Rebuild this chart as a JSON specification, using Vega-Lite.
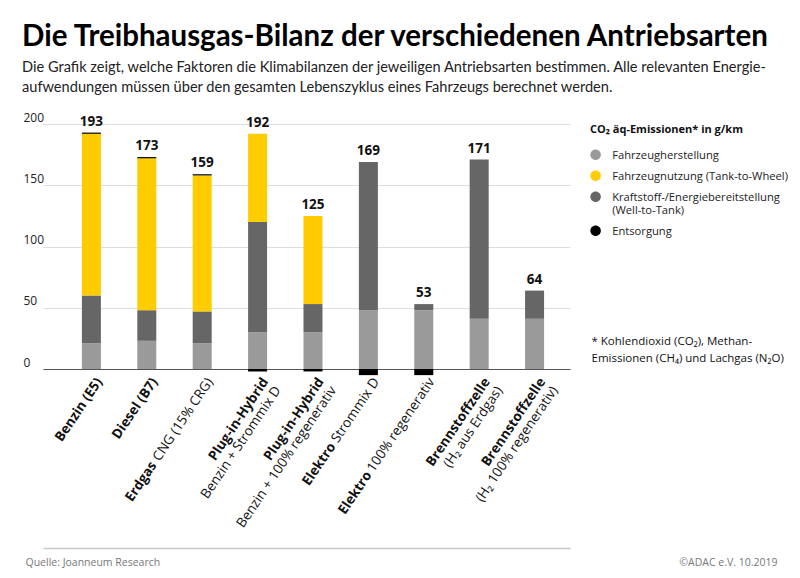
{
  "$schema": "https://vega.github.io/schema/vega-lite/v6.json",
  "autosize": {"type": "none"},
  "padding": {"left": 43, "top": 124, "right": 230, "bottom": 209},
  "width": 527,
  "height": 245,
  "background": "white",
  "config": {"view": {"stroke": null}, "font": "Open Sans"},
  "title": {
    "text": "Die Treibhausgas-Bilanz der verschiedenen Antriebsarten",
    "subtitle": ["Die Grafik zeigt, welche Faktoren die Klimabilanzen der jeweiligen Antriebsarten bestimmen. Alle relevanten Energie-", "aufwendungen müssen über den gesamten Lebenszyklus eines Fahrzeugs berechnet werden."],
    "anchor": "start",
    "frame": "group",
    "dx": -21,
    "offset": 15,
    "font": "Lato",
    "fontSize": 29.5,
    "fontWeight": "bold",
    "color": "#000000",
    "subtitleFont": "Lato",
    "subtitleFontSize": 14.6,
    "subtitleColor": "#222222",
    "subtitlePadding": 8,
    "subtitleLineHeight": 20
  },
  "datasets": {
    "parts": [
      {"k": "E5", "comp": "Fahrzeugherstellung", "o": 1, "v": 21},
      {"k": "E5", "comp": "Kraftstoff-/Energiebereitstellung (Well-to-Tank)", "o": 2, "v": 39},
      {"k": "E5", "comp": "Fahrzeugnutzung (Tank-to-Wheel)", "o": 3, "v": 132},
      {"k": "E5", "comp": "Entsorgung", "o": 4, "v": 1},
      {"k": "B7", "comp": "Fahrzeugherstellung", "o": 1, "v": 23},
      {"k": "B7", "comp": "Kraftstoff-/Energiebereitstellung (Well-to-Tank)", "o": 2, "v": 25},
      {"k": "B7", "comp": "Fahrzeugnutzung (Tank-to-Wheel)", "o": 3, "v": 124},
      {"k": "B7", "comp": "Entsorgung", "o": 4, "v": 1},
      {"k": "CNG", "comp": "Fahrzeugherstellung", "o": 1, "v": 21},
      {"k": "CNG", "comp": "Kraftstoff-/Energiebereitstellung (Well-to-Tank)", "o": 2, "v": 26},
      {"k": "CNG", "comp": "Fahrzeugnutzung (Tank-to-Wheel)", "o": 3, "v": 111},
      {"k": "CNG", "comp": "Entsorgung", "o": 4, "v": 1},
      {"k": "PHEV_D", "comp": "Fahrzeugherstellung", "o": 1, "v": 30},
      {"k": "PHEV_D", "comp": "Kraftstoff-/Energiebereitstellung (Well-to-Tank)", "o": 2, "v": 90},
      {"k": "PHEV_D", "comp": "Fahrzeugnutzung (Tank-to-Wheel)", "o": 3, "v": 72},
      {"k": "PHEV_D", "comp": "Entsorgung", "o": 4, "v": -2},
      {"k": "PHEV_R", "comp": "Fahrzeugherstellung", "o": 1, "v": 30},
      {"k": "PHEV_R", "comp": "Kraftstoff-/Energiebereitstellung (Well-to-Tank)", "o": 2, "v": 23},
      {"k": "PHEV_R", "comp": "Fahrzeugnutzung (Tank-to-Wheel)", "o": 3, "v": 72},
      {"k": "PHEV_R", "comp": "Entsorgung", "o": 4, "v": -2},
      {"k": "BEV_D", "comp": "Fahrzeugherstellung", "o": 1, "v": 48},
      {"k": "BEV_D", "comp": "Kraftstoff-/Energiebereitstellung (Well-to-Tank)", "o": 2, "v": 121},
      {"k": "BEV_D", "comp": "Entsorgung", "o": 4, "v": -5},
      {"k": "BEV_R", "comp": "Fahrzeugherstellung", "o": 1, "v": 48},
      {"k": "BEV_R", "comp": "Kraftstoff-/Energiebereitstellung (Well-to-Tank)", "o": 2, "v": 5},
      {"k": "BEV_R", "comp": "Entsorgung", "o": 4, "v": -5},
      {"k": "FCEV_E", "comp": "Fahrzeugherstellung", "o": 1, "v": 41},
      {"k": "FCEV_E", "comp": "Kraftstoff-/Energiebereitstellung (Well-to-Tank)", "o": 2, "v": 130},
      {"k": "FCEV_R", "comp": "Fahrzeugherstellung", "o": 1, "v": 41},
      {"k": "FCEV_R", "comp": "Kraftstoff-/Energiebereitstellung (Well-to-Tank)", "o": 2, "v": 23}
    ],
    "totals": [
      {"k": "E5", "t": 193},
      {"k": "B7", "t": 173},
      {"k": "CNG", "t": 159},
      {"k": "PHEV_D", "t": 192},
      {"k": "PHEV_R", "t": 125},
      {"k": "BEV_D", "t": 169},
      {"k": "BEV_R", "t": 53},
      {"k": "FCEV_E", "t": 171},
      {"k": "FCEV_R", "t": 64}
    ]
  },
  "layer": [
    {
      "data": {"name": "parts"},
      "mark": {"type": "bar"},
      "encoding": {
        "x": {
          "field": "k", "type": "nominal", "sort": null,
          "scale": {"domain": ["E5", "B7", "CNG", "PHEV_D", "PHEV_R", "BEV_D", "BEV_R", "FCEV_E", "FCEV_R"], "paddingInner": 0.657, "paddingOuter": 0.585, "align": 0.6},
          "axis": {
            "orient": "bottom",
            "title": ["* Kohlendioxid (CO₂), Methan-", "Emissionen (CH₄) und Lachgas (N₂O)"],
            "titleX": 548, "titleY": -25, "titleAlign": "left", "titleAnchor": "start", "titleBaseline": "alphabetic", "titleAngle": 0,
            "titleFont": "Open Sans", "titleFontWeight": "normal", "titleFontSize": 11.5, "titleColor": "#111111", "titleLineHeight": 17.5,
            "labelAngle": -56, "labelAlign": "right", "labelBaseline": "middle",
            "labelFont": "Open Sans", "labelFontWeight": "bold", "labelFontSize": 13.5, "labelColor": "#111111",
            "labelPadding": {"condition": [{"test": "datum.value=='CNG'", "value": 93.7}, {"test": "datum.value=='BEV_D'", "value": 74.7}, {"test": "datum.value=='BEV_R'", "value": 103.4}], "value": 10},
            "labelOffset": {"condition": [{"test": "datum.value=='CNG'", "value": -48.5}, {"test": "datum.value=='BEV_D'", "value": -35.6}, {"test": "datum.value=='BEV_R'", "value": -55}], "value": 8},
            "labelLimit": 1000, "labelOverlap": false, "labelBound": false, "labelLineHeight": 15,
            "ticks": false, "tickSize": 0, "domainColor": "#555555", "domainWidth": 1.2, "grid": false,
            "labelExpr": "datum.value=='E5' ? 'Benzin (E5)' : datum.value=='B7' ? 'Diesel (B7)' : datum.value=='CNG' ? 'Erdgas' : (datum.value=='PHEV_D' || datum.value=='PHEV_R') ? ['Plug-in-Hybrid', '\u00a0'] : (datum.value=='BEV_D' || datum.value=='BEV_R') ? 'Elektro' : ['Brennstoffzelle', '\u00a0']"
          }
        },
        "y": {
          "field": "v", "type": "quantitative", "stack": "zero",
          "scale": {"domain": [0, 200], "nice": false},
          "axis": {
            "orient": "left", "title": null, "values": [0, 50, 100, 150, 200],
            "domain": false, "ticks": false, "tickSize": 0,
            "labelAlign": "left", "labelPadding": 20, "labelBaseline": "alphabetic", "labelOffset": -3,
            "labelFont": "Open Sans", "labelFontSize": 12, "labelColor": "#222222",
            "grid": true, "gridColor": "#dddddd", "gridWidth": 1
          }
        },
        "color": {
          "field": "comp", "type": "nominal",
          "scale": {"domain": ["Fahrzeugherstellung", "Fahrzeugnutzung (Tank-to-Wheel)", "Kraftstoff-/Energiebereitstellung (Well-to-Tank)", "Entsorgung"], "range": ["#9a9a9a", "#ffcc00", "#666666", "#000000"]},
          "legend": {
            "orient": "none", "legendX": 547, "legendY": 0,
            "title": "CO₂ äq-Emissionen* in g/km",
            "titleFont": "Open Sans", "titleFontWeight": "bold", "titleFontSize": 11, "titleColor": "#111111", "titlePadding": 9,
            "symbolType": "M-1,1A1,1 0 1,0 1,1A1,1 0 1,0 -1,1Z", "symbolSize": 110, "symbolStrokeWidth": 0,
            "labelFont": "Open Sans", "labelFontSize": 11.2, "labelColor": "#222222", "labelOffset": 11, "labelLimit": 400,
            "rowPadding": 4, "labelLineHeight": 16, "labelBaseline": "top",
            "labelExpr": "datum.label=='Kraftstoff-/Energiebereitstellung (Well-to-Tank)' ? ['Kraftstoff-/Energiebereitstellung', '(Well-to-Tank)'] : datum.label"
          }
        },
        "order": {"field": "o", "type": "quantitative"}
      }
    },
    {
      "data": {"name": "totals"},
      "mark": {"type": "text", "baseline": "bottom", "dy": -4, "font": "Open Sans", "fontWeight": "bold", "fontSize": 13.5, "color": "#111111"},
      "encoding": {
        "x": {
          "field": "k", "type": "nominal", "sort": null,
          "scale": {"domain": ["E5", "B7", "CNG", "PHEV_D", "PHEV_R", "BEV_D", "BEV_R", "FCEV_E", "FCEV_R"]},
          "axis": {
            "orient": "bottom", "offset": 179,
            "title": "Quelle:  Joanneum Research",
            "titleX": -18, "titleY": 17, "titleAlign": "left", "titleAnchor": "start", "titleBaseline": "alphabetic", "titleAngle": 0,
            "titleFont": "Open Sans", "titleFontWeight": "normal", "titleFontSize": 10.5, "titleColor": "#777777",
            "labelAngle": -56, "labelAlign": "right", "labelBaseline": "middle",
            "labelFont": "Open Sans", "labelFontWeight": "normal", "labelFontSize": 13.5, "labelColor": "#111111",
            "labelPadding": -169, "labelOffset": 8, "labelLimit": 1000, "labelOverlap": false, "labelBound": false, "labelLineHeight": 15,
            "ticks": false, "tickSize": 0, "domain": true, "domainColor": "#c8c8c8", "domainWidth": 1.5, "grid": false,
            "labelExpr": "datum.value=='CNG' ? 'CNG (15% CRG)' : datum.value=='PHEV_D' ? ['\u00a0', 'Benzin + Strommix D'] : datum.value=='PHEV_R' ? ['\u00a0', 'Benzin + 100% regenerativ'] : datum.value=='BEV_D' ? 'Strommix D' : datum.value=='BEV_R' ? '100% regenerativ' : datum.value=='FCEV_E' ? ['\u00a0', '(H₂ aus Erdgas)'] : datum.value=='FCEV_R' ? ['\u00a0', '(H₂ 100% regenerativ)'] : ''"
          }
        },
        "y": {
          "field": "t", "type": "quantitative",
          "scale": {"domain": [0, 200], "nice": false},
          "axis": {
            "orient": "right",
            "title": "©ADAC e.V.  10.2019",
            "titleX": 207, "titleY": 441, "titleAlign": "right", "titleAnchor": "start", "titleBaseline": "alphabetic", "titleAngle": 0,
            "titleFont": "Open Sans", "titleFontWeight": "normal", "titleFontSize": 10.5, "titleColor": "#777777",
            "labels": false, "ticks": false, "domain": false, "grid": false
          }
        },
        "text": {"field": "t", "type": "quantitative"}
      }
    }
  ],
  "resolve": {"axis": {"x": "independent", "y": "independent"}}
}
